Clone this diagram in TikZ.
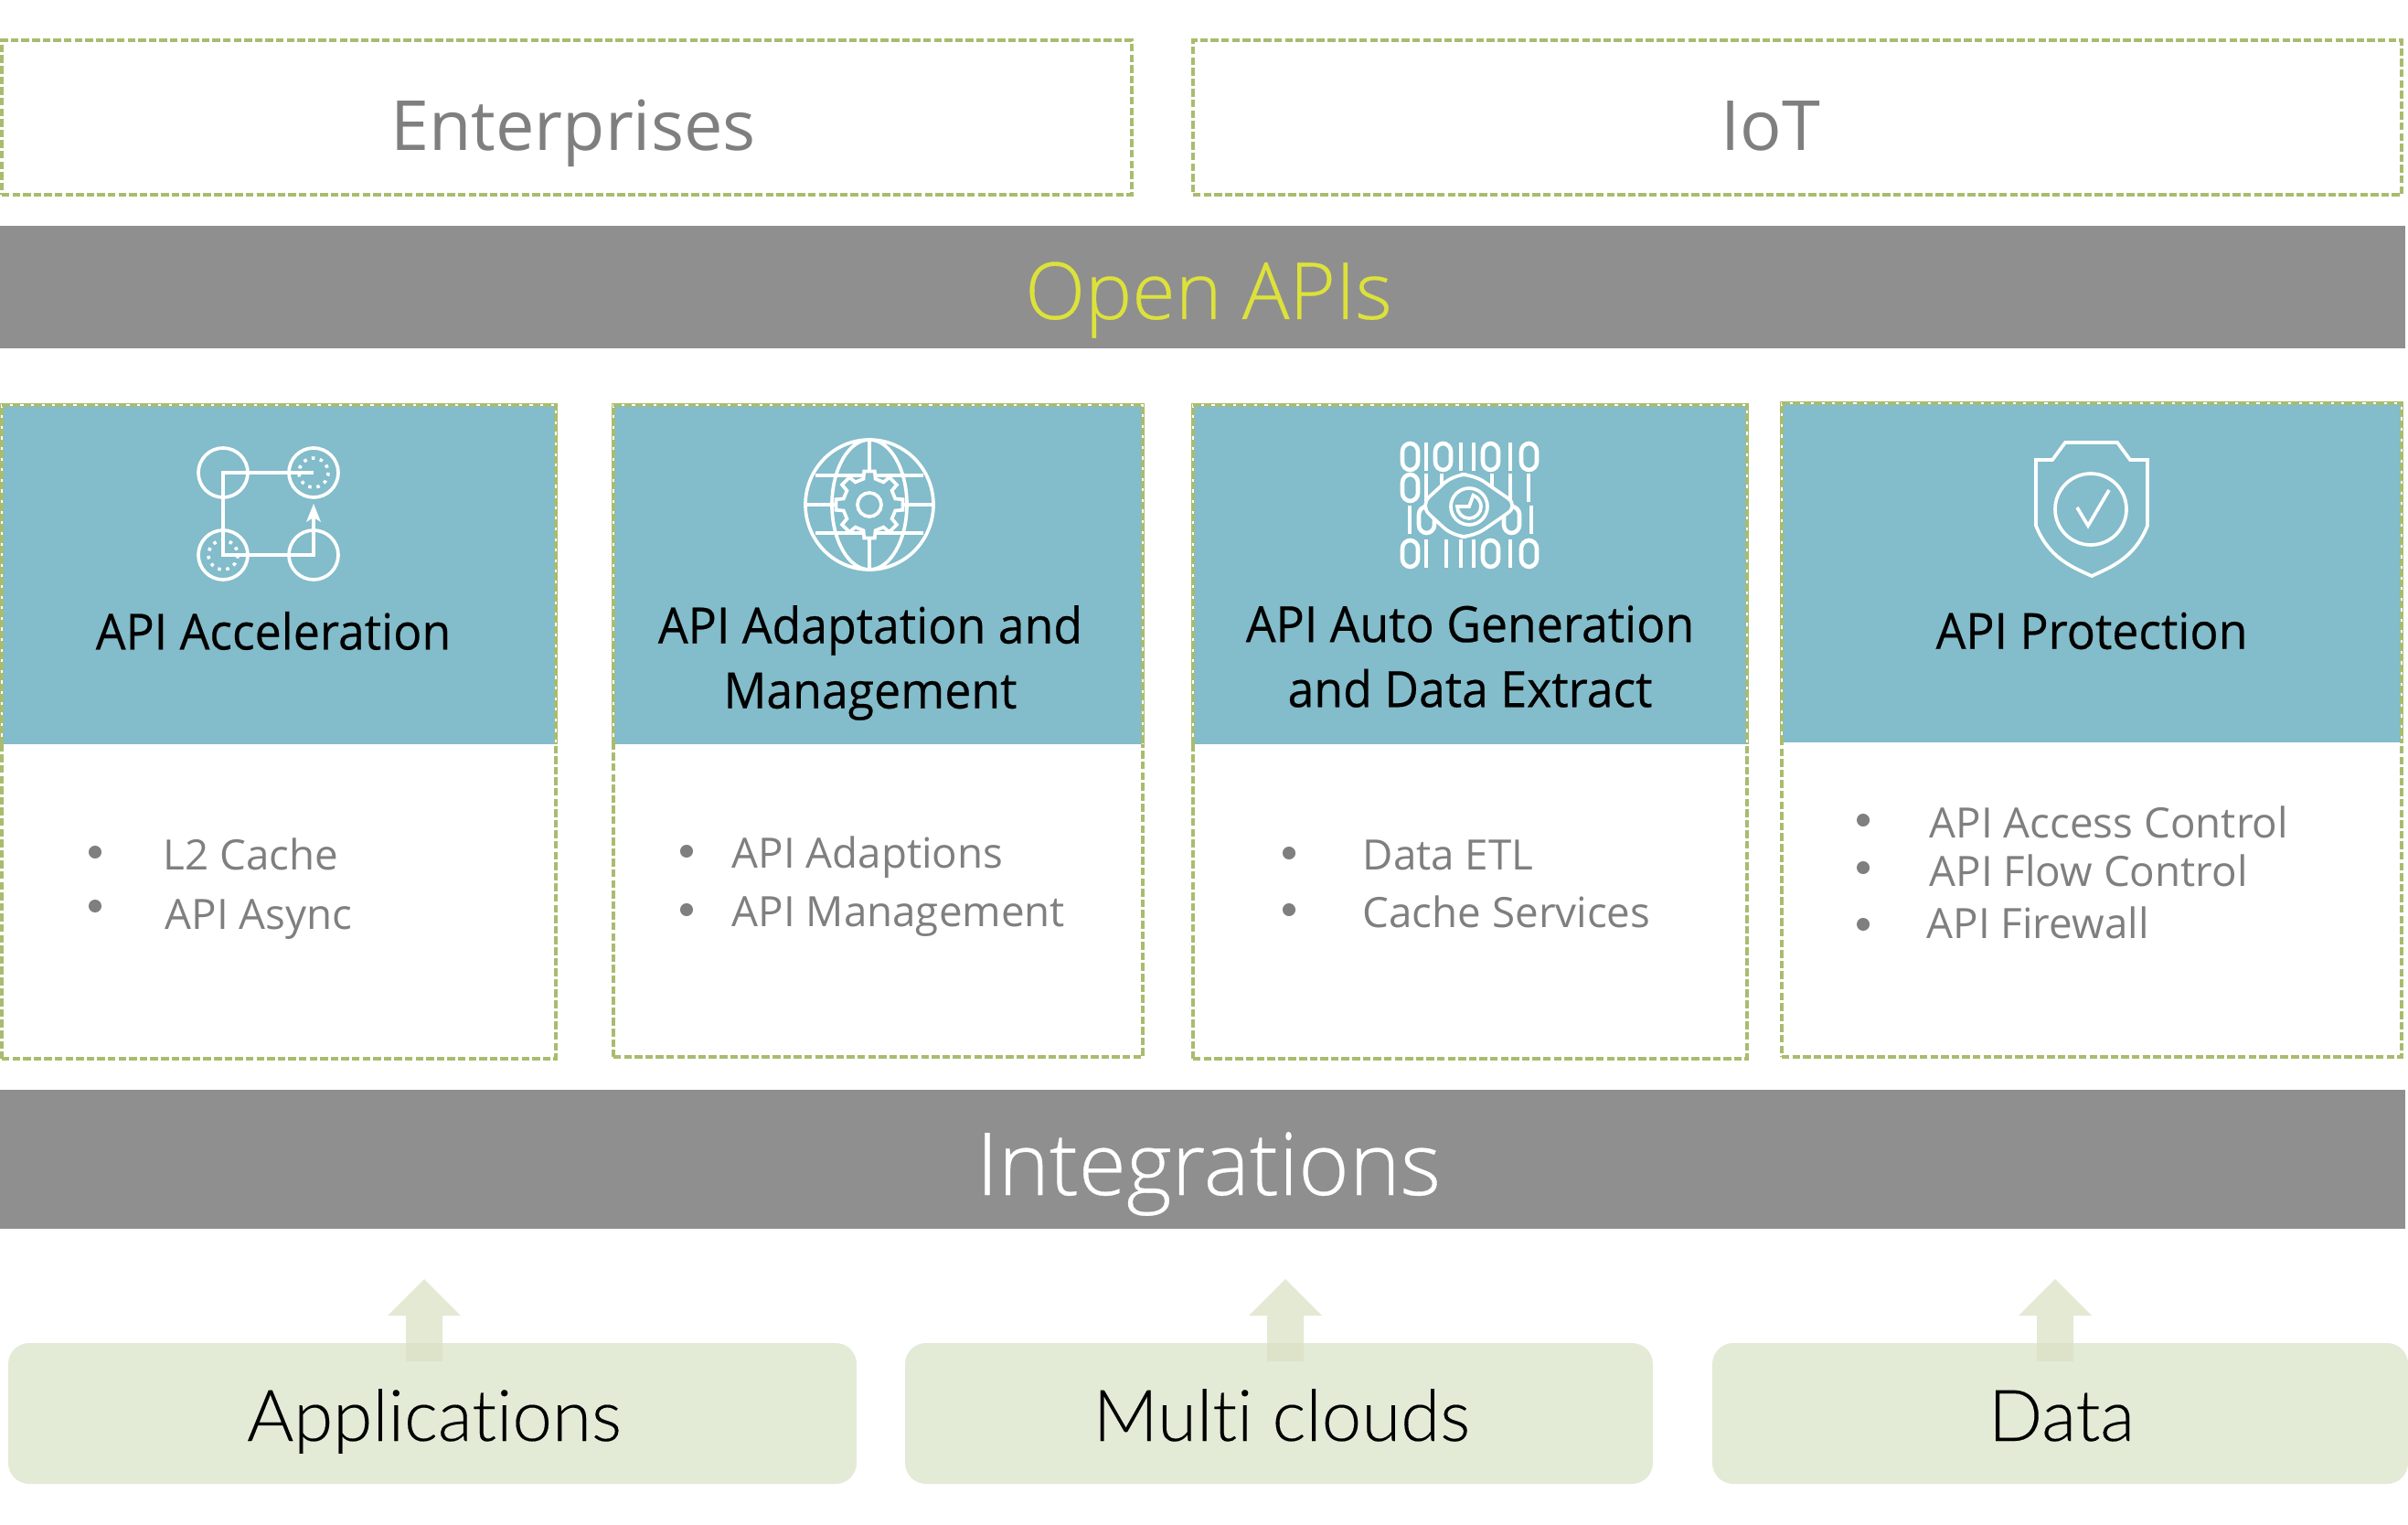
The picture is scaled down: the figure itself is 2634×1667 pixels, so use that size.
\documentclass[tikz,border=0pt]{standalone}
\usepackage{fontspec}
\setmainfont{Open Sans}
\newfontfamily\lightfont{Open Sans}[UprightFont=* Light,FakeBold=0.35]
\newfontfamily\srcfont{Lato}[UprightFont=* Light,Ligatures=NoCommon,FakeBold=0.2]
\newfontfamily\titlefont{Open Sans}[FakeStretch=0.95,FakeBold=0.4]
\usetikzlibrary{calc}
\definecolor{tealc}{HTML}{83BCCA}
\definecolor{dashc}{HTML}{A9BC6E}
\definecolor{barc}{HTML}{8F8F8F}
\definecolor{greyt}{HTML}{7F7F7F}
\definecolor{yel}{HTML}{DDE23A}
\definecolor{sage}{HTML}{E3EAD6}
\newcommand{\pxbox}[5]{\node[#1,minimum width=(#4-#2)*0.01cm,minimum height=(#5-#3)*0.01cm] at ({(#2+#4)/2},{(#3+#5)/2})}
\tikzset{
  x=0.01cm,y=-0.01cm,
  dashline/.style={line width=0.9pt,preaction={draw=white,solid},draw=dashc,dash pattern=on 2.4pt off 0.9pt},
  dashbox/.style={rectangle,inner sep=0,outer sep=0,dashline},
  headbox/.style={rectangle,inner sep=0,outer sep=0,fill=tealc},
  bar/.style={rectangle,inner sep=0,outer sep=0,fill=barc},
  srcbox/.style={rectangle,rounded corners=6.5pt,inner sep=0,outer sep=0,fill=sage},
  toptext/.style={font=\fontsize{21.5}{26}\selectfont,text=greyt,inner sep=0,anchor=base},
  bartext/.style={font=\lightfont\fontsize{27}{32}\selectfont,inner sep=0,anchor=base},
  srctext/.style={font=\srcfont\fontsize{22.2}{27}\selectfont,text=black,inner sep=0,anchor=base},
  title/.style={font=\titlefont\fontsize{15.5}{20.2}\selectfont,text=black,align=center,inner sep=0},
  item/.style={font=\fontsize{13}{16}\selectfont,text=greyt,anchor=base west,inner sep=0},
  bul/.style={circle,fill=greyt,inner sep=0,minimum size=4pt},
  icon/.style={draw=white,line width=1.05pt,line join=miter},
  digit/.style={draw=white,line width=1.3pt},
  upblock/.style={fill=sage!92!olive,fill opacity=.75},
}
\begin{document}
\begin{tikzpicture}
\useasboundingbox (0,0) rectangle (2634,1667);

% top boxes
\pxbox{dashbox}{2}{44}{1238}{213} (ent) {};
\node[toptext] (entT) at (627,165) {Enterprises};
\pxbox{dashbox}{1305}{44}{2627}{213} (iot) {};
\node[toptext] (iotT) at (1937,165) {IoT};

% bars
\pxbox{bar}{0}{247}{2631}{381} (open) {};
\node[bartext,text=yel,font=\lightfont\fontsize{24.5}{30}\selectfont] (openT) at (1322,349) {Open APIs};
\pxbox{bar}{0}{1192}{2631}{1344} (integ) {};
\node[bartext,text=white] (integT) at (1322,1307) {Integrations};

% cards
\pxbox{dashbox}{2}{443}{608}{1158} (c1) {};
\pxbox{headbox}{2}{443}{608}{814} (h1) {};
\draw[dashline] (2,814) -- (2,443) -- (608,443) -- (608,814);
\pxbox{dashbox}{671}{443}{1250}{1156} (c2) {};
\pxbox{headbox}{671}{443}{1250}{814} (h2) {};
\draw[dashline] (671,814) -- (671,443) -- (1250,443) -- (1250,814);
\pxbox{dashbox}{1305}{443}{1911}{1158} (c3) {};
\pxbox{headbox}{1305}{443}{1911}{814} (h3) {};
\draw[dashline] (1305,814) -- (1305,443) -- (1911,443) -- (1911,814);
\pxbox{dashbox}{1949}{441}{2627}{1156} (c4) {};
\pxbox{headbox}{1949}{441}{2627}{812} (h4) {};
\draw[dashline] (1949,812) -- (1949,441) -- (2627,441) -- (2627,812);

% titles
\node[title] (t1) at (299,690) {API Acceleration};
\node[title] (t2) at (952,725) {API Adaptation and\\Management};
\node[title] (t3) at (1608,718) {API Auto Generation\\and Data Extract};
\node[title] (t4) at (2288,690) {API Protection};

% lists
\foreach \n/\xb/\yb/\xt/\yt/\txt in {
 a/104/932/178/951/L2 Cache, b/104/991/180/1016/API Async,
 c/751/931/800/949/API Adaptions, d/751/995/800/1013/API Management,
 e/1410/933/1490/951/Data ETL, f/1410/995/1490/1014/Cache Services,
 g/2038/897/2110/916/API Access Control, h/2038/949/2110/969/API Flow Control, i/2038/1011/2107/1026/API Firewall}{
  \node[bul] (b\n) at (\xb,\yb) {};
  \node[item] (l\n) at (\xt,\yt) {\txt};
}

% source boxes with arrows
\foreach \n/\xa/\xc/\ax/\txt/\tx in {app/9/937/464/Applications/475, mc/990/1808/1406/Multi clouds/1402, dat/1873/2634/2248/Data/2255}{
  \pxbox{srcbox}{\xa}{1469}{\xc}{1623} (\n) {};
  \node[srctext] (\n T) at (\tx,1576) {\txt};
  \fill[upblock] (\ax,1399) -- (\ax+40,1439) -- (\ax+20,1439) -- (\ax+20,1489) -- (\ax-20,1489) -- (\ax-20,1439) -- (\ax-40,1439) -- cycle;
}

% icon 1
\draw[icon] (244,517) circle (27) (343,517) circle (27) (244,607) circle (27) (343,607) circle (27);
\draw[icon,line width=1pt,dash pattern=on 1pt off 1.6pt] (343,517) circle (16) (244,607) circle (16);
\draw[icon] (343,517) -- (244,517) -- (244,607) -- (343,607) -- (343,560);
\fill[white] (343,551) -- (351,571) -- (343,566) -- (335,571) -- cycle;

% icon 2
\draw[icon] (951,552) ellipse (70 and 71) (951,552) ellipse (41 and 71);
\draw[icon] (951,481) -- (951,623) (881,552) -- (1021,552);
\draw[icon] (892,520) -- (1010,520) (892,583) -- (1010,583);
\draw[icon,fill=tealc] ([shift={(951,552)}]-13:29)
  \foreach \a in {0,45,...,315}{ -- ([shift={(951,552)}]\a-13:29) -- ([shift={(951,552)}]\a-9:37) -- ([shift={(951,552)}]\a+9:37) -- ([shift={(951,552)}]\a+13:29)} -- cycle;
\draw[icon] (951,552) circle (13);

% icon 3
\foreach \yy/\zeros/\ones in {485/{1534,1570,1622,1664}/{1560,1598,1612,1652},
 519/{1534}/{1560,1577,1632,1652,1672},
 554/{1552,1645}/{1542,1675},
 591/{1534,1622,1664}/{1560,1582,1598,1612,1652}}{
  \foreach \xx in \zeros {\draw[digit,rounded corners=2.5pt] (\xx,\yy) rectangle (\xx+17,\yy+29);}
  \foreach \xx in \ones {\draw[digit] (\xx,\yy-1) -- (\xx,\yy+30);}
}
\draw[icon,fill=tealc,rounded corners=4pt] (1553,553) -- (1590,519) -- (1612,519) -- (1661,553) -- (1612,587) -- (1590,587) -- cycle;
\draw[icon] (1607,554) circle (20);
\draw[icon] (1594,554) arc (180:-70:13) -- (1607,554) -- cycle;

% icon 4
\draw[icon] (2227,503) -- (2245,503) -- (2259,484) -- (2316,484) -- (2330,503) -- (2349,503) -- (2349,575)
  .. controls (2335,610) and (2310,620) .. (2288,630) .. controls (2266,620) and (2241,610) .. (2227,575) -- cycle;
\draw[icon] (2287,557) circle (39);
\draw[icon] (2272,555) -- (2284,575) -- (2307,536);
\end{tikzpicture}
\end{document}
